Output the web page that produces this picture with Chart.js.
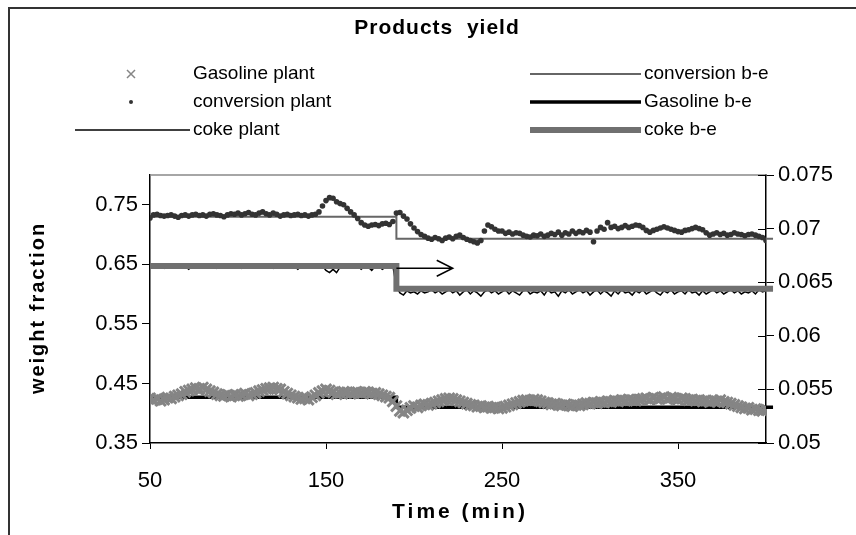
<!DOCTYPE html>
<html>
<head>
<meta charset="utf-8">
<script src="https://cdn.jsdelivr.net/npm/chart.js@4/dist/chart.umd.min.js"></script>
<style>
  html, body { margin: 0; padding: 0; background: #fff; }
  #wrap { width: 856px; height: 535px; }
</style>
</head>
<body>
<div id="wrap"><canvas id="yieldChart" width="856" height="535"></canvas></div>
<script>
// time axis of the plant measurements (min)
const times = [
  50, 52, 54, 56, 58, 60, 62, 64, 66, 68,
  70, 72, 74, 76, 78, 80, 82, 84, 86, 88,
  90, 92, 94, 96, 98, 100, 102, 104, 106, 108,
  110, 112, 114, 116, 118, 120, 122, 124, 126, 128,
  130, 132, 134, 136, 138, 140, 142, 144, 146, 148,
  150, 152, 154, 156, 158, 160, 162, 164, 166, 168,
  170, 172, 174, 176, 178, 180, 182, 184, 186, 188,
  190, 192, 194, 196, 198, 200, 202, 204, 206, 208,
  210, 212, 214, 216, 218, 220, 222, 224, 226, 228,
  230, 232, 234, 236, 238, 240, 242, 244, 246, 248,
  250, 252, 254, 256, 258, 260, 262, 264, 266, 268,
  270, 272, 274, 276, 278, 280, 282, 284, 286, 288,
  290, 292, 294, 296, 298, 300, 302, 304, 306, 308,
  310, 312, 314, 316, 318, 320, 322, 324, 326, 328,
  330, 332, 334, 336, 338, 340, 342, 344, 346, 348,
  350, 352, 354, 356, 358, 360, 362, 364, 366, 368,
  370, 372, 374, 376, 378, 380, 382, 384, 386, 388,
  390, 392, 394, 396, 398, 400
];

const conversionPlant = [
  .728, .733, .734, .732, .731, .732, .733, .731, .729, .732,
  .733, .731, .733, .734, .732, .733, .731, .734, .735, .733,
  .732, .730, .733, .735, .734, .736, .733, .735, .737, .734,
  .733, .736, .738, .735, .733, .736, .734, .731, .733, .734,
  .732, .733, .734, .732, .733, .731, .733, .734, .738, .748,
  .757, .762, .761, .755, .752, .750, .744, .738, .733, .727,
  .720, .716, .714, .716, .717, .715, .718, .719, .717, .722,
  .736, .737, .731, .726, .718, .711, .705, .700, .697, .694,
  .692, .695, .693, .690, .694, .696, .693, .697, .699, .695,
  .692, .690, .688, .686, .690, .706, .716, .713, .709, .706,
  .706, .702, .704, .701, .703, .702, .699, .697, .696, .699,
  .698, .701, .697, .699, .702, .700, .704, .699, .703, .701,
  .706, .702, .705, .703, .707, .704, .688, .706, .712, .709,
  .720, .712, .714, .710, .712, .715, .712, .714, .716, .715,
  .712, .707, .704, .707, .709, .711, .713, .711, .709, .707,
  .705, .704, .707, .708, .710, .712, .710, .708, .703, .699,
  .701, .703, .700, .702, .699, .700, .703, .701, .700, .698,
  .700, .701, .699, .697, .695, .690
];

const gasolinePlant = [
  .425, .422, .424, .421, .423, .426, .425, .428, .430, .432,
  .436, .438, .440, .442, .441, .443, .440, .437, .435, .432,
  .430, .429, .431, .428, .430, .429, .431, .433, .430, .432,
  .434, .437, .439, .441, .442, .443, .441, .440, .436, .433,
  .430, .428, .426, .424, .425, .423, .427, .430, .434, .437,
  .440, .438, .435, .432, .434, .436, .435, .433, .434, .435,
  .434, .436, .435, .433, .434, .432, .430, .428, .426, .420,
  .412, .404, .401, .405, .409, .412, .410, .413, .415, .414,
  .416, .418, .420, .422, .424, .425, .424, .422, .420, .418,
  .416, .414, .413, .411, .412, .410, .411, .409, .410, .408,
  .409, .411, .413, .415, .417, .419, .421, .422, .421, .423,
  .422, .420, .418, .417, .415, .416, .414, .413, .415, .413,
  .412, .414, .413, .415, .417, .416, .418, .417, .419, .418,
  .420, .419, .421, .420, .422, .421, .423, .422, .421, .423,
  .424, .425, .423, .426, .424, .425, .427, .424, .426, .425,
  .423, .425, .424, .422, .423, .421, .422, .420, .421, .419,
  .421, .420, .422, .419, .418, .416, .414, .412, .410, .408,
  .409, .406, .407, .405, .404, .406
];

// coke is read on the right axis
const cokePlant = [
  .0665, .0664, .0665, .0665, .0663, .0665, .0665, .0664, .0665, .0665,
  .0665, .0662, .0665, .0665, .0665, .0664, .0665, .0665, .0665, .0663,
  .0665, .0665, .0664, .0665, .0665, .0665, .0663, .0665, .0665, .0665,
  .0664, .0665, .0665, .0665, .0665, .0663, .0665, .0664, .0665, .0665,
  .0665, .0665, .0662, .0665, .0665, .0665, .0664, .0665, .0665, .0665,
  .0661, .0659, .0662, .0659, .0664, .0665, .0665, .0665, .0665, .0665,
  .0662, .0665, .0664, .0661, .0665, .0665, .0662, .0664, .0665, .0665,
  .0646, .0640, .0638, .0642, .0640, .0641, .0639, .0642, .0640, .0641,
  .0643, .0640, .0642, .0639, .0641, .0643, .0640, .0642, .0638, .0641,
  .0643, .0639, .0642, .0640, .0637, .0641, .0643, .0640, .0642, .0639,
  .0641, .0643, .0639, .0642, .0640, .0638, .0642, .0643, .0639, .0641,
  .0640, .0642, .0638, .0643, .0640, .0641, .0637, .0642, .0640, .0643,
  .0639, .0641, .0643, .0640, .0642, .0638, .0641, .0643, .0639, .0642,
  .0640, .0637, .0642, .0639, .0643, .0640, .0641, .0638, .0642, .0640,
  .0643, .0639, .0641, .0643, .0640, .0638, .0642, .0640, .0643, .0639,
  .0641, .0642, .0639, .0643, .0640, .0641, .0638, .0642, .0639, .0641,
  .0643, .0640, .0642, .0639, .0641, .0643, .0640, .0642, .0639, .0641,
  .0640, .0642, .0639, .0643, .0641, .0642
];

// base-estimate (b-e) step lines
const stepTimes = [50, 190, 190, 404];
const conversionBE = [0.73, 0.73, 0.693, 0.693];
const gasolineBE = [0.427, 0.427, 0.41, 0.41];
const cokeBE = [0.0665, 0.0665, 0.0644, 0.0644];

const xTicks = [50, 150, 250, 350];
const leftTicks = [0.35, 0.45, 0.55, 0.65, 0.75];
const rightTicks = [0.05, 0.055, 0.06, 0.065, 0.07, 0.075];

// arrow pointing to the right axis
const arrowFrom = [190, 0.0663];
const arrowTo = [222, 0.0663];

const FONT = "'Liberation Sans', Arial, sans-serif";

function pts(xs, ys) {
  return xs.map((x, i) => ({ x: x, y: ys[i] }));
}

const datasets = [
  {
    label: "Gasoline plant",
    data: pts(times, gasolinePlant),
    yAxisID: "y",
    showLine: false,
    pointStyle: "crossRot",
    pointRadius: 7.5,
    borderWidth: 3,
    borderColor: "#858585",
    backgroundColor: "#858585",
    legendCol: 0, legendRow: 0, legendKind: "cross",
  },
  {
    label: "Gasoline b-e",
    data: pts(stepTimes, gasolineBE),
    yAxisID: "y",
    showLine: true,
    pointRadius: 0,
    borderWidth: 3.5,
    borderColor: "#000",
    clip: { left: 0, top: 0, right: 12, bottom: 0 },
    legendCol: 1, legendRow: 1, legendKind: "line",
  },
  {
    label: "conversion plant",
    data: pts(times, conversionPlant),
    yAxisID: "y",
    showLine: false,
    pointStyle: "circle",
    pointRadius: 2.8,
    borderWidth: 0,
    backgroundColor: "#333",
    borderColor: "#333",
    legendCol: 0, legendRow: 1, legendKind: "dot",
  },
  {
    label: "conversion b-e",
    data: pts(stepTimes, conversionBE),
    yAxisID: "y",
    showLine: true,
    pointRadius: 0,
    borderWidth: 2,
    borderColor: "#666",
    clip: { left: 0, top: 0, right: 12, bottom: 0 },
    legendCol: 1, legendRow: 0, legendKind: "line",
  },
  {
    label: "coke b-e",
    data: pts(stepTimes, cokeBE),
    yAxisID: "y2",
    showLine: true,
    pointRadius: 0,
    borderWidth: 6,
    borderColor: "#707070",
    clip: { left: 0, top: 0, right: 12, bottom: 0 },
    legendCol: 1, legendRow: 2, legendKind: "line",
  },
  {
    label: "coke plant",
    data: pts(times, cokePlant),
    yAxisID: "y2",
    showLine: true,
    pointRadius: 0,
    borderWidth: 1.5,
    borderColor: "#000",
    legendCol: 0, legendRow: 2, legendKind: "line",
  },
];

// title, legend, axis titles, frame, arrow
const decorations = {
  id: "decorations",
  afterDraw(chart) {
    const ctx = chart.ctx;
    const area = chart.chartArea;
    const xs = chart.scales.x;
    const y2 = chart.scales.y2;
    ctx.save();

    // outer frame (left and top only, as in the picture)
    ctx.strokeStyle = "#333";
    ctx.lineWidth = 2;
    ctx.beginPath();
    ctx.moveTo(9, 535);
    ctx.lineTo(9, 8);
    ctx.lineTo(856, 8);
    ctx.stroke();

    // grey top edge of plot area
    ctx.strokeStyle = "#888";
    ctx.lineWidth = 1.5;
    ctx.beginPath();
    ctx.moveTo(area.left, area.top);
    ctx.lineTo(area.right, area.top);
    ctx.stroke();

    // right axis ticks cross the axis line
    ctx.strokeStyle = "#000";
    ctx.lineWidth = 1;
    rightTicks.forEach((v) => {
      const py = Math.round(y2.getPixelForValue(v)) + 0.5;
      ctx.beginPath();
      ctx.moveTo(area.right - 8, py);
      ctx.lineTo(area.right, py);
      ctx.stroke();
    });

    // arrow
    const ax0 = xs.getPixelForValue(arrowFrom[0]);
    const ay = y2.getPixelForValue(arrowFrom[1]);
    const ax1 = xs.getPixelForValue(arrowTo[0]);
    ctx.lineWidth = 1.5;
    ctx.beginPath();
    ctx.moveTo(ax0, ay);
    ctx.lineTo(ax1, ay);
    ctx.moveTo(ax1 - 16, ay - 8);
    ctx.lineTo(ax1, ay);
    ctx.lineTo(ax1 - 16, ay + 8);
    ctx.stroke();

    ctx.fillStyle = "#000";
    ctx.textAlign = "center";
    ctx.textBaseline = "middle";

    // title
    ctx.font = "bold 21px " + FONT;
    ctx.letterSpacing = "1px";
    ctx.fillText("Products  yield", 437, 28);

    // axis titles
    ctx.font = "bold 21px " + FONT;
    ctx.letterSpacing = "3px";
    ctx.fillText("Time (min)", (area.left + area.right) / 2 + 2, 512);
    ctx.save();
    ctx.translate(38, (area.top + area.bottom) / 2);
    ctx.rotate(-Math.PI / 2);
    ctx.font = "bold 20px " + FONT;
    ctx.letterSpacing = "2px";
    ctx.fillText("weight fraction", 1, 0);
    ctx.restore();
    ctx.letterSpacing = "0px";

    // legend, two columns of three rows
    const rowY = [74, 102, 130];
    const cols = [
      { x0: 75, x1: 190, text: 193 },
      { x0: 530, x1: 641, text: 644 },
    ];
    ctx.font = "19px " + FONT;
    ctx.textAlign = "left";
    chart.data.datasets.forEach((ds) => {
      const c = cols[ds.legendCol];
      const y = rowY[ds.legendRow];
      if (ds.legendKind === "line") {
        ctx.strokeStyle = ds.borderColor;
        ctx.lineWidth = ds.borderWidth;
        ctx.beginPath();
        ctx.moveTo(c.x0, y);
        ctx.lineTo(c.x1, y);
        ctx.stroke();
      } else if (ds.legendKind === "cross") {
        ctx.strokeStyle = ds.borderColor;
        ctx.lineWidth = 1.5;
        const cx = 131, r = 4;
        ctx.beginPath();
        ctx.moveTo(cx - r, y - r);
        ctx.lineTo(cx + r, y + r);
        ctx.moveTo(cx + r, y - r);
        ctx.lineTo(cx - r, y + r);
        ctx.stroke();
      } else {
        ctx.fillStyle = ds.backgroundColor;
        ctx.beginPath();
        ctx.arc(131, y, 2, 0, Math.PI * 2);
        ctx.fill();
      }
      ctx.fillStyle = "#000";
      ctx.fillText(ds.label, c.text, y);
    });
    ctx.restore();
  },
};

const tickFont = { family: FONT, size: 22 };

const ctx = document.getElementById("yieldChart").getContext("2d");
new Chart(ctx, {
  type: "scatter",
  data: { datasets: datasets },
  options: {
    responsive: false,
    animation: false,
    devicePixelRatio: 1,
    layout: { padding: { top: 175, left: 0, right: 0, bottom: 0 } },
    plugins: {
      legend: { display: false },
      title: { display: false },
      tooltip: { enabled: false },
    },
    scales: {
      x: {
        type: "linear",
        min: 50,
        max: 400,
        afterBuildTicks: (s) => { s.ticks = xTicks.map((v) => ({ value: v })); },
        afterFit: (s) => { s.height = 92; },
        grid: { drawOnChartArea: false, tickLength: 6, color: "#000" },
        border: { color: "#000", width: 1.5 },
        ticks: { color: "#000", font: tickFont, padding: 19, maxRotation: 0,
                 callback: (v) => String(v) },
      },
      y: {
        position: "left",
        min: 0.35,
        max: 0.8,
        afterBuildTicks: (s) => { s.ticks = leftTicks.map((v) => ({ value: v })); },
        afterFit: (s) => { s.width = 150; },
        grid: { drawOnChartArea: false, tickLength: 8, color: "#000" },
        border: { color: "#000", width: 1.5 },
        ticks: { color: "#000", font: tickFont, padding: 4,
                 callback: (v) => Number(v).toFixed(2) },
      },
      y2: {
        position: "right",
        min: 0.05,
        max: 0.075,
        afterBuildTicks: (s) => { s.ticks = rightTicks.map((v) => ({ value: v })); },
        afterFit: (s) => { s.width = 90; },
        grid: { drawOnChartArea: false, tickLength: 8, color: "#000" },
        border: { color: "#000", width: 1.5 },
        ticks: { color: "#000", font: tickFont, padding: 4,
                 callback: (v) => String(Number(Number(v).toFixed(3))) },
      },
    },
  },
  plugins: [decorations],
});
</script>
</body>
</html>
